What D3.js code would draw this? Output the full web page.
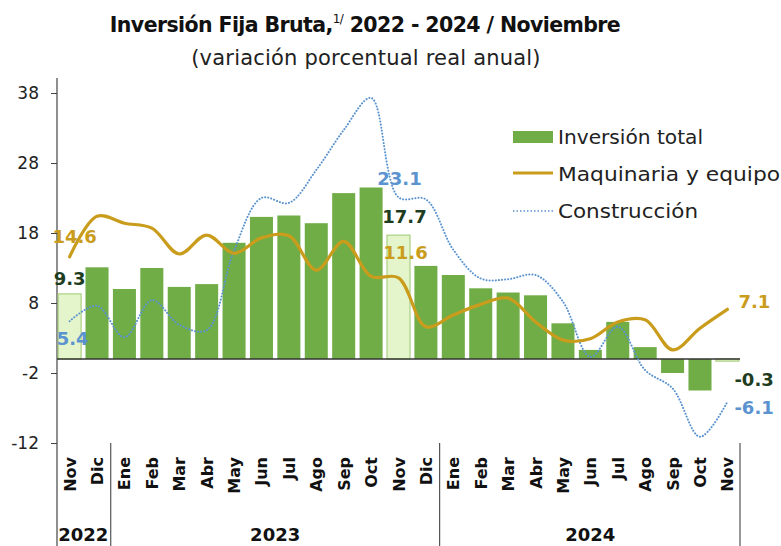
<!DOCTYPE html>
<html>
<head>
<meta charset="utf-8">
<script src="https://cdn.jsdelivr.net/npm/d3@7"></script>
<style>
  body { margin: 0; background: #fff; }
  text { font-family: "DejaVu Sans", sans-serif; }
</style>
</head>
<body>
<div id="chart"></div>
<script>
const months = ["Nov","Dic","Ene","Feb","Mar","Abr","May","Jun","Jul","Ago","Sep","Oct","Nov","Dic",
                "Ene","Feb","Mar","Abr","May","Jun","Jul","Ago","Sep","Oct","Nov"];
const years = [{label: "2022", from: 0, to: 1}, {label: "2023", from: 2, to: 13}, {label: "2024", from: 14, to: 24}];
const inversion = [9.3,13.1,10.0,13.0,10.3,10.7,16.6,20.3,20.5,19.4,23.7,24.5,17.7,13.3,12.0,10.1,9.5,9.1,5.1,1.3,5.3,1.7,-2.0,-4.5,-0.3];
const maquinaria = [14.6,20.4,19.4,18.7,15.0,17.7,15.1,17.3,17.6,12.7,16.8,11.8,11.6,4.6,6.3,7.8,8.7,5.3,2.7,2.9,5.3,5.6,1.3,4.4,7.1];
const construccion = [5.4,7.6,3.1,8.4,4.9,4.1,15.5,23.0,22.3,27.0,32.7,37.3,23.1,22.8,15.6,11.5,11.4,12.0,8.2,0.3,4.6,-1.6,-4.2,-11.1,-6.1];
const highlight = [0, 12, 24];
const yTicks = [-12, -2, 8, 18, 28, 38];

const width = 781, height = 546;
const colBar = "#70ad47", colBarLight = "#e4f5cc", colGold = "#c99c1c", colBlue = "#5b93cf", colDark = "#1e3d1e";

const svg = d3.select("#chart").append("svg")
    .attr("width", width)
    .attr("height", height);

const x = d3.scaleBand()
    .domain(d3.range(months.length))
    .range([57, 740])
    .paddingInner(0.16)
    .paddingOuter(0.04);

const y = d3.scaleLinear()
    .domain([-12, 38])
    .range([443, 93]);

const cx = i => x(i) + x.bandwidth() / 2;

// title
const title = svg.append("text")
    .attr("x", 365).attr("y", 32)
    .attr("text-anchor", "middle")
    .style("font-size", "20.5px").style("font-weight", "bold")
    .style("letter-spacing", "-0.6px")
    .style("fill", "#111");
title.append("tspan").text("Inversión Fija Bruta,");
title.append("tspan").attr("dy", -9).style("font-size", "12px").style("font-weight", "normal").text("1/");
title.append("tspan").attr("dy", 9).text(" 2022 - 2024 / Noviembre");

svg.append("text")
    .attr("x", 366).attr("y", 65)
    .attr("text-anchor", "middle")
    .style("font-size", "21px")
    .style("letter-spacing", "0.2px")
    .style("fill", "#222")
    .text("(variación porcentual real anual)");

// y axis
const yAxis = svg.append("g")
    .attr("transform", "translate(57,0)")
    .call(d3.axisLeft(y).tickValues(yTicks).tickSize(6).tickPadding(12).tickFormat(d => String(d)));
yAxis.select(".domain").remove();
yAxis.selectAll("line").attr("stroke", "#444");
yAxis.selectAll("text").style("font-size", "17px").style("fill", "#222")
    .style("font-family", "DejaVu Sans, sans-serif");
svg.append("line")
    .attr("x1", 57).attr("x2", 57).attr("y1", 78).attr("y2", height)
    .attr("stroke", "#444").attr("stroke-width", 1.2);

// bars
svg.append("g").selectAll("rect")
    .data(inversion)
    .join("rect")
    .attr("x", (d, i) => x(i))
    .attr("width", x.bandwidth())
    .attr("y", d => y(Math.max(0, d)))
    .attr("height", d => Math.abs(y(d) - y(0)))
    .attr("fill", (d, i) => highlight.includes(i) ? colBarLight : colBar)
    .attr("stroke", (d, i) => highlight.includes(i) ? "#9cc76e" : "none")
    .attr("stroke-width", 1);

// zero line
svg.append("line")
    .attr("x1", 57).attr("x2", 740).attr("y1", y(0)).attr("y2", y(0))
    .attr("stroke", "#333").attr("stroke-width", 1.3);

// lines
const line = d3.line()
    .x((d, i) => cx(i))
    .y(d => y(d))
    .curve(d3.curveCatmullRom.alpha(0.5));

svg.append("path")
    .attr("d", line(construccion))
    .attr("fill", "none")
    .attr("stroke", colBlue)
    .attr("stroke-width", 2)
    .attr("stroke-dasharray", "0.1,3")
    .attr("stroke-linecap", "round");

svg.append("path")
    .attr("d", line(maquinaria))
    .attr("fill", "none")
    .attr("stroke", colGold)
    .attr("stroke-width", 3.2)
    .attr("stroke-linecap", "round");

// data labels
const labels = [
    {i: 0, v: inversion[0], dx: 0, dy: -15, anchor: "middle", color: colDark},
    {i: 0, v: construccion[0], dx: 3, dy: 17, anchor: "middle", color: colBlue},
    {i: 0, v: maquinaria[0], dx: 5, dy: -20, anchor: "middle", color: colGold},
    {i: 12, v: inversion[12], dx: 6, dy: -18, anchor: "middle", color: colDark},
    {i: 12, v: construccion[12], dx: 1, dy: -19, anchor: "middle", color: colBlue},
    {i: 12, v: maquinaria[12], dx: 7, dy: -25, anchor: "middle", color: colGold},
    {i: 24, v: maquinaria[24], dx: 11, dy: -8, anchor: "start", color: colGold},
    {i: 24, v: inversion[24], dx: 7, dy: 19, anchor: "start", color: colDark},
    {i: 24, v: construccion[24], dx: 7, dy: 6, anchor: "start", color: colBlue}
];
svg.append("g").selectAll("text")
    .data(labels)
    .join("text")
    .attr("x", d => cx(d.i) + d.dx)
    .attr("y", d => y(d.v) + d.dy)
    .attr("dy", "0.35em")
    .attr("text-anchor", d => d.anchor)
    .style("font-size", "18px").style("font-weight", "bold")
    .style("fill", d => d.color)
    .text(d => d.v.toFixed(1));

// x axis: months + years
svg.append("g").selectAll("text")
    .data(months)
    .join("text")
    .attr("transform", (d, i) => `translate(${cx(i) + 6},457) rotate(-90)`)
    .attr("text-anchor", "end")
    .style("font-size", "16px").style("font-weight", "bold")
    .style("fill", "#111")
    .text(d => d);

const sepIdx = [2, 14];
svg.append("g").selectAll("line")
    .data(sepIdx)
    .join("line")
    .attr("x1", d => x(d) - x.step() * x.paddingInner() / 2)
    .attr("x2", d => x(d) - x.step() * x.paddingInner() / 2)
    .attr("y1", 443).attr("y2", height)
    .attr("stroke", "#555").attr("stroke-width", 1.2);
svg.append("line")
    .attr("x1", 740).attr("x2", 740).attr("y1", 443).attr("y2", height)
    .attr("stroke", "#555").attr("stroke-width", 1.2);

svg.append("g").selectAll("text")
    .data(years)
    .join("text")
    .attr("x", d => (x(d.from) + x(d.to) + x.bandwidth()) / 2)
    .attr("y", 541)
    .attr("text-anchor", "middle")
    .style("font-size", "18px").style("font-weight", "bold")
    .style("fill", "#111")
    .text(d => d.label);

// legend
const legend = svg.append("g").attr("transform", "translate(513,0)");
legend.append("rect").attr("x", 0).attr("y", 131).attr("width", 40).attr("height", 12).attr("fill", colBar);
legend.append("line").attr("x1", 0).attr("x2", 40).attr("y1", 173).attr("y2", 173)
    .attr("stroke", colGold).attr("stroke-width", 3);
legend.append("line").attr("x1", 0).attr("x2", 40).attr("y1", 211).attr("y2", 211)
    .attr("stroke", colBlue).attr("stroke-width", 1.5).attr("stroke-dasharray", "1.5,2");
const legendNames = ["Inversión total", "Maquinaria y equipo", "Construcción"];
const legendLen = [145, 222, 140];
legend.selectAll("text.leg")
    .data(legendNames)
    .join("text")
    .attr("class", "leg")
    .attr("x", 45)
    .attr("y", (d, i) => [137, 174, 211][i])
    .attr("dy", "0.35em")
    .attr("textLength", (d, i) => legendLen[i]).attr("lengthAdjust", "spacingAndGlyphs")
    .style("font-size", "20px")
    .style("fill", "#222")
    .text(d => d);
</script>
</body>
</html>
